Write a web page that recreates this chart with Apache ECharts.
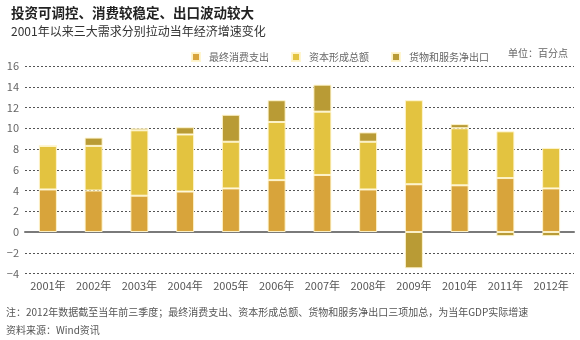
<!DOCTYPE html>
<html>
<head>
<meta charset="utf-8">
<script src="https://cdn.jsdelivr.net/npm/echarts@6/dist/echarts.min.js"></script>
<style>
  html, body { margin: 0; padding: 0; background: #ffffff; }
  #chart { width: 580px; height: 340px; }
</style>
</head>
<body>
<div id="chart"></div>
<script>
// 年份
const years = ['2001年', '2002年', '2003年', '2004年', '2005年', '2006年',
               '2007年', '2008年', '2009年', '2010年', '2011年', '2012年'];
// 三大需求对GDP增长的拉动（百分点）
const consumption = [4.1, 4.0, 3.5, 3.9, 4.2, 5.0, 5.5, 4.1, 4.6, 4.5, 5.2, 4.2];
const capital     = [4.2, 4.3, 6.3, 5.5, 4.5, 5.6, 6.1, 4.6, 8.1, 5.5, 4.5, 3.9];
const netExports  = [0.0, 0.8, 0.2, 0.7, 2.6, 2.1, 2.6, 0.9, -3.5, 0.4, -0.4, -0.4];
// 纵轴刻度
const yMin = -4, yMax = 16, yStep = 2;

const FONT = '"Noto Sans CJK SC", "Noto Sans", sans-serif';
const chart = echarts.init(document.getElementById('chart'), null, { renderer: 'canvas' });

const barBorder = { borderColor: 'rgba(255,246,205,0.95)', borderWidth: 1 };

function barSeries(name, data, color) {
  return {
    name: name,
    type: 'bar',
    stack: 'gdp',
    xAxisIndex: 0,
    data: data,
    barWidth: 18,
    itemStyle: Object.assign({ color: color }, barBorder),
    emphasis: { disabled: true }
  };
}

chart.setOption({
  animation: false,
  textStyle: { fontFamily: FONT },
  grid: { left: 25, right: 6, top: 66, bottom: 66.5, containLabel: false },
  title: [
    {
      text: '投资可调控、消费较稳定、出口波动较大',
      left: 6, top: 1,
      textStyle: { fontSize: 13.5, fontWeight: 'bold', color: '#222', fontFamily: FONT }
    },
    {
      text: '2001年以来三大需求分别拉动当年经济增速变化',
      left: 6, top: 20,
      textStyle: { fontSize: 12, fontWeight: 'normal', color: '#333', fontFamily: FONT }
    }
  ],
  legend: {
    left: 186, top: 47,
    icon: 'rect',
    itemWidth: 8, itemHeight: 8,
    itemGap: 22,
    selectedMode: false,
    textStyle: { fontSize: 10, color: '#666', fontFamily: FONT, padding: [0, 0, 0, 4] },
    data: ['最终消费支出', '资本形成总额', '货物和服务净出口']
  },
  graphic: [
    {
      type: 'text', right: 12, top: 48,
      style: { text: '单位：百分点', fontSize: 10, fill: '#666', fontFamily: FONT }
    },
    {
      type: 'text', left: 6, top: 307,
      style: { text: '注：2012年数据截至当年前三季度；最终消费支出、资本形成总额、货物和服务净出口三项加总，为当年GDP实际增速', fontSize: 10, fill: '#555', fontFamily: FONT }
    },
    {
      type: 'text', left: 6, top: 325,
      style: { text: '资料来源：Wind资讯', fontSize: 10, fill: '#555', fontFamily: FONT }
    }
  ],
  xAxis: [
    {
      // 零值轴线
      type: 'category',
      data: years,
      axisLine: { onZero: true, lineStyle: { color: '#7a7a7a', width: 2 } },
      axisTick: { show: false },
      axisLabel: { show: false }
    },
    {
      // 底部年份标签
      type: 'category',
      data: years,
      position: 'bottom',
      axisLine: { show: false, onZero: false },
      axisTick: { show: false },
      axisLabel: { interval: 0, color: '#555', fontSize: 11, margin: 7, fontFamily: FONT }
    }
  ],
  yAxis: {
    type: 'value',
    min: yMin, max: yMax, interval: yStep,
    axisLine: { show: false },
    axisTick: { show: false },
    splitLine: { lineStyle: { color: '#555', width: 1, type: [2, 2] } },
    axisLabel: {
      color: '#666', fontSize: 11, margin: 6, fontFamily: FONT,
      formatter: v => (v < 0 ? '\u2212' + Math.abs(v) : String(v))
    }
  },
  series: [
    barSeries('最终消费支出', consumption, '#d8a43b'),
    barSeries('资本形成总额', capital, '#e3c340'),
    barSeries('货物和服务净出口', netExports, '#b99b35')
  ]
});
</script>
</body>
</html>
